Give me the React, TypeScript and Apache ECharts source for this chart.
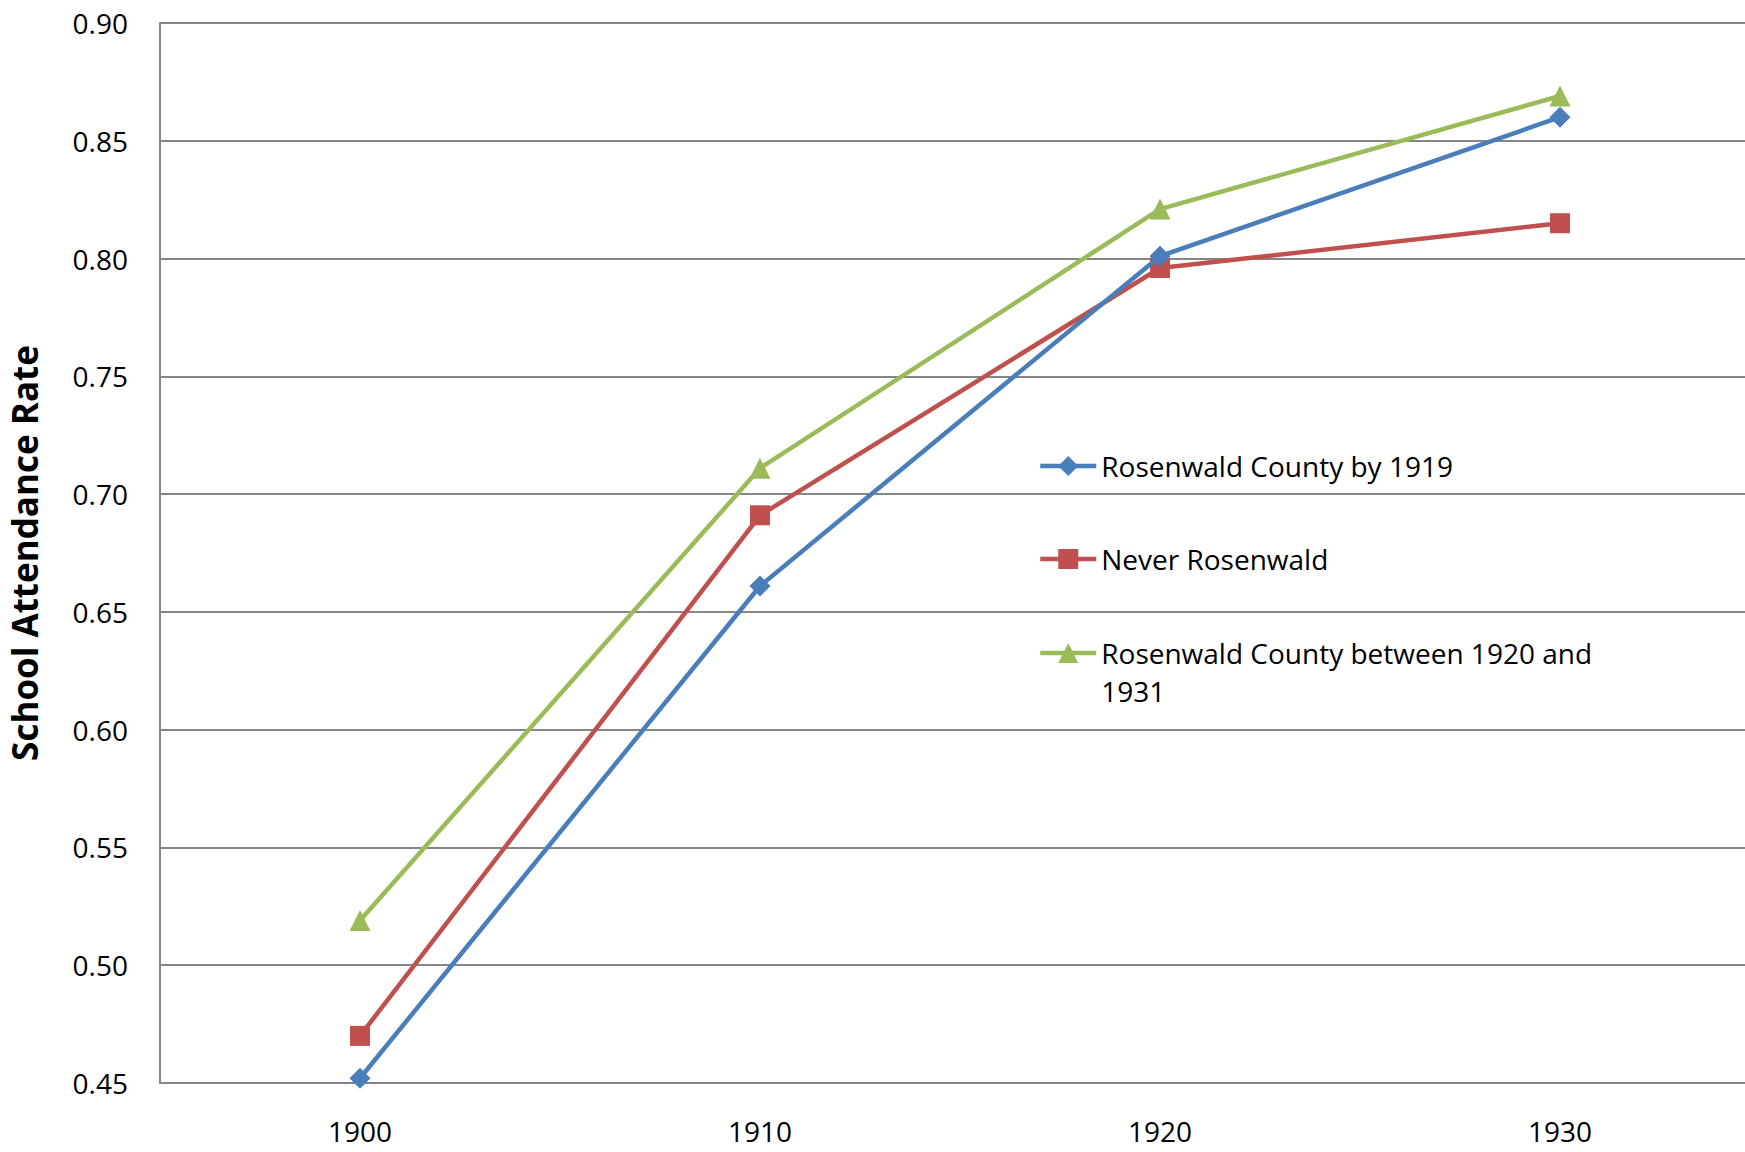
import React, { useEffect, useRef } from "react";
import * as echarts from "echarts";

const years = ["1900", "1910", "1920", "1930"];
const seriesNames = [
  "Rosenwald County by 1919",
  "Never Rosenwald",
  "Rosenwald County between 1920 and 1931",
];
const rosenwaldBy1919 = [0.452, 0.661, 0.801, 0.86];
const neverRosenwald = [0.47, 0.691, 0.796, 0.815];
const rosenwald1920to1931 = [0.519, 0.711, 0.821, 0.869];
const yTicks = { min: 0.45, max: 0.9, interval: 0.05 };
const yAxisTitle = "School Attendance Rate";

const colors = ["#4A7EBB", "#C0504D", "#9BBB59"];
const symbols = ["diamond", "rect", "triangle"];
const FONT = "Open Sans";

function wrap(text: string, maxChars: number): string {
  const words = text.split(" ");
  const lines: string[] = [];
  let cur = "";
  for (const w of words) {
    if (cur && (cur + " " + w).length > maxChars) {
      lines.push(cur);
      cur = w;
    } else {
      cur = cur ? cur + " " + w : w;
    }
  }
  if (cur) lines.push(cur);
  return lines.join("\n");
}

export default function App() {
  const ref = useRef<HTMLDivElement>(null);
  useEffect(() => {
    if (!ref.current) return;
    const chart = echarts.init(ref.current, undefined, { renderer: "svg" });
    const values = [rosenwaldBy1919, neverRosenwald, rosenwald1920to1931];
    const legendTops = [451, 544, 596];
    chart.setOption({
      animation: false,
      backgroundColor: "#ffffff",
      textStyle: { fontFamily: FONT },
      grid: { left: 160, top: 23, width: 1600, height: 1060, outerBoundsMode: "none", containLabel: false },
      xAxis: {
        type: "category",
        data: years,
        boundaryGap: true,
        axisLine: { show: true, lineStyle: { color: "#868686", width: 2 } },
        axisTick: { show: false },
        axisLabel: { color: "#000", fontSize: 28, margin: 34, fontFamily: FONT },
      },
      yAxis: {
        type: "value",
        min: yTicks.min,
        max: yTicks.max,
        interval: yTicks.interval,
        name: yAxisTitle,
        nameLocation: "middle",
        nameGap: 118,
        nameTextStyle: { color: "#000", fontSize: 35, fontWeight: "bold", fontFamily: FONT },
        axisLine: { show: true, lineStyle: { color: "#868686", width: 2 } },
        axisTick: { show: false },
        axisLabel: {
          color: "#000",
          fontSize: 28,
          margin: 32,
          fontFamily: FONT,
          formatter: (v: number) => v.toFixed(2),
        },
        splitLine: { show: true, lineStyle: { color: "#868686", width: 2 } },
      },
      legend: seriesNames.map((name, i) => ({
        data: [name],
        left: 1038,
        top: legendTops[i],
        padding: 0,
        itemWidth: 56,
        itemHeight: 25,
        itemGap: 2,
        lineStyle: { width: 4.5 },
        formatter: (n: string) => {
          const w = wrap(n, 34);
          return w.indexOf("\n") >= 0 ? "\n" + w : w;
        },
        textStyle: {
          color: "#000",
          fontSize: 28,
          fontFamily: FONT,
          lineHeight: i === 2 ? 38 : 30,
        },
      })),
      series: seriesNames.map((name, i) => ({
        name,
        type: "line",
        data: values[i],
        symbol: symbols[i],
        symbolSize: i === 1 ? 20 : 21,
        showAllSymbol: true,
        lineStyle: { color: colors[i], width: 4.5 },
        itemStyle: { color: colors[i] },
        z: 3 - i,
      })),
    });
    return () => chart.dispose();
  }, []);
  return (
    <div
      ref={ref}
      style={{ position: "fixed", left: 0, top: 0, width: 1745, height: 1152 }}
    />
  );
}
